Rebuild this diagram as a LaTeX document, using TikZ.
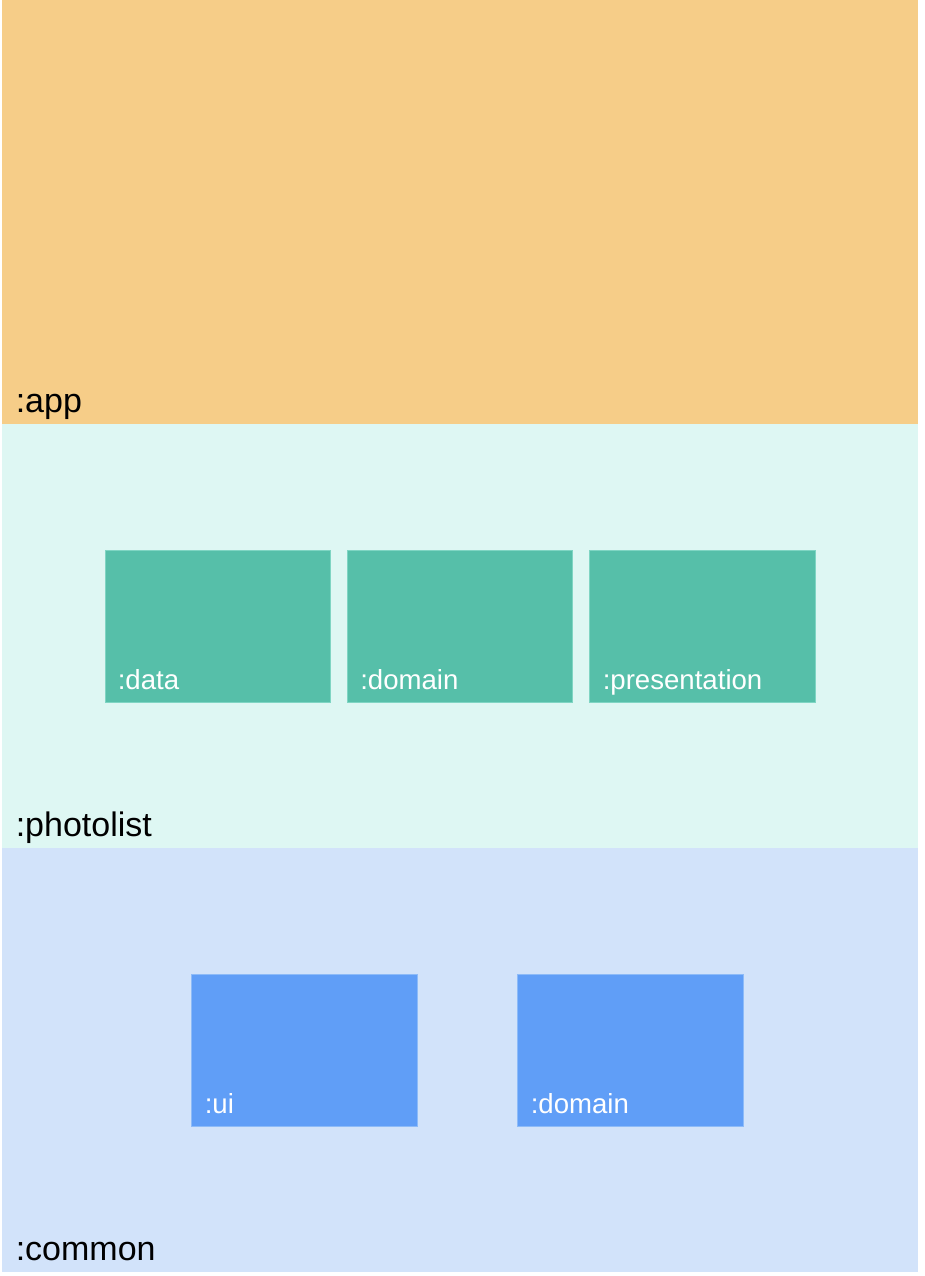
\documentclass[tikz,border=0pt]{standalone}
\usepackage{fontspec}
\setmainfont{Liberation Sans}
\definecolor{appbg}{HTML}{F6CD88}
\definecolor{plbg}{HTML}{DEF7F3}
\definecolor{cmbg}{HTML}{D2E3FA}
\definecolor{teal}{HTML}{56BFA9}
\definecolor{tealedge}{HTML}{7FD5C3}
\definecolor{blu}{HTML}{609EF7}
\definecolor{bluedge}{HTML}{8DBBF8}
\tikzset{
  band/.style={inner sep=0pt, outer sep=0pt},
  bandlabel/.style={anchor=base west, inner sep=0pt, font=\fontsize{25.5}{29}\selectfont, text=black},
  tealbox/.style={fill=teal, draw=tealedge, line width=0.75pt},
  bluebox/.style={fill=blu, draw=bluedge, line width=0.75pt},
  boxlabel/.style={anchor=base west, inner sep=0pt, font=\fontsize{20.7}{24}\selectfont, text=white}
}
\begin{document}
\begin{tikzpicture}[x=0.75pt,y=-0.75pt]
\useasboundingbox (0,0) rectangle (924,1276);
\fill[white] (0,0) rectangle (924,1276);
% bands
\fill[appbg] (2,0) rectangle (918,424);
\fill[plbg] (2,424) rectangle (918,848);
\fill[cmbg] (2,848) rectangle (918,1272);
\node[bandlabel] (app) at (15.5,412) {:app};
\node[bandlabel] (photolist) at (15.5,836) {:photolist};
\node[bandlabel] (common) at (15.5,1260) {:common};
% photolist modules
\draw[tealbox] (105,550) rectangle (330.5,702);
\draw[tealbox] (347,550) rectangle (572.5,702);
\draw[tealbox] (589.5,550) rectangle (815,702);
\node[boxlabel] (data) at (117.5,689.5) {:data};
\node[boxlabel] (pldomain) at (360,689.5) {:domain};
\node[boxlabel] (presentation) at (602.5,689.5) {:presentation};
% common modules
\draw[bluebox] (191.5,974) rectangle (417,1126);
\draw[bluebox] (517.5,974) rectangle (743,1126);
\node[boxlabel] (ui) at (204.5,1113.5) {:ui};
\node[boxlabel] (cmdomain) at (530.5,1113.5) {:domain};
\end{tikzpicture}
\end{document}
